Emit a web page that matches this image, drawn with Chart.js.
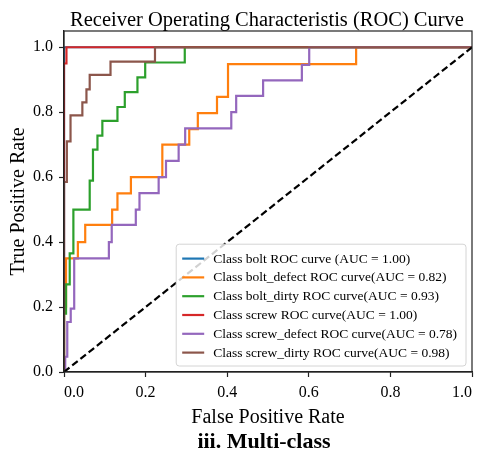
<!DOCTYPE html>
<html>
<head>
<meta charset="utf-8">
<script src="https://cdn.jsdelivr.net/npm/chart.js@4.4.1/dist/chart.umd.min.js"></script>
<style>
html,body{margin:0;padding:0;background:#fff;}
#wrap{width:477px;height:452px;}
</style>
</head>
<body>
<div id="wrap"><canvas id="c" width="477" height="452"></canvas></div>
<script>
// ---------- DATA ----------
const chartTitle = 'Receiver Operating Characteristis (ROC) Curve';
const caption = 'iii. Multi-class';
const xAxisTitle = 'False Positive Rate';
const yAxisTitle = 'True Positive Rate';
const xTicks = [0.0, 0.2, 0.4, 0.6, 0.8, 1.0];
const yTicks = [0.0, 0.2, 0.4, 0.6, 0.8, 1.0];

const seriesLabels = [
  'Class bolt ROC curve (AUC = 1.00)',
  'Class bolt_defect ROC curve(AUC = 0.82)',
  'Class bolt_dirty ROC curve(AUC = 0.93)',
  'Class screw ROC curve(AUC = 1.00)',
  'Class screw_defect ROC curve(AUC = 0.78)',
  'Class screw_dirty ROC curve(AUC = 0.98)'
];
const seriesColors = ['#1f77b4', '#ff7f0e', '#2ca02c', '#d62728', '#9467bd', '#8c564b'];

const boltFpr = [0, 0, 1];
const boltTpr = [0, 1, 1];

const boltDefectFpr = [0, 0, 0.005, 0.005, 0.034, 0.034, 0.052, 0.052, 0.118, 0.118, 0.131, 0.131, 0.164, 0.164, 0.241, 0.241, 0.307, 0.307, 0.328, 0.328, 0.375, 0.375, 0.402, 0.402, 0.716, 0.716, 1];
const boltDefectTpr = [0, 0.2, 0.2, 0.35, 0.35, 0.40, 0.40, 0.453, 0.453, 0.50, 0.50, 0.55, 0.55, 0.60, 0.60, 0.70, 0.70, 0.748, 0.748, 0.797, 0.797, 0.847, 0.847, 0.948, 0.948, 1, 1];

const boltDirtyFpr = [0, 0, 0.005, 0.005, 0.014, 0.014, 0.023, 0.023, 0.063, 0.063, 0.071, 0.071, 0.082, 0.082, 0.094, 0.094, 0.131, 0.131, 0.149, 0.149, 0.18, 0.18, 0.199, 0.199, 0.296, 0.296, 1];
const boltDirtyTpr = [0, 0.18, 0.18, 0.27, 0.27, 0.365, 0.365, 0.50, 0.50, 0.589, 0.589, 0.685, 0.685, 0.728, 0.728, 0.773, 0.773, 0.816, 0.816, 0.862, 0.862, 0.907, 0.907, 0.953, 0.953, 1, 1];

const screwFpr = [0, 0, 0.006, 0.006, 1];
const screwTpr = [0, 0.95, 0.95, 1, 1];

const screwDefectFpr = [0, 0.003, 0.003, 0.008, 0.008, 0.0165, 0.0165, 0.025, 0.025, 0.11, 0.11, 0.117, 0.117, 0.176, 0.176, 0.185, 0.185, 0.232, 0.232, 0.25, 0.25, 0.281, 0.281, 0.297, 0.297, 0.41, 0.41, 0.422, 0.422, 0.488, 0.488, 0.583, 0.583, 0.601, 0.601, 1];
const screwDefectTpr = [0, 0, 0.047, 0.047, 0.154, 0.154, 0.195, 0.195, 0.35, 0.35, 0.40, 0.40, 0.453, 0.453, 0.50, 0.50, 0.551, 0.551, 0.60, 0.60, 0.65, 0.65, 0.70, 0.70, 0.75, 0.75, 0.80, 0.80, 0.85, 0.85, 0.898, 0.898, 0.946, 0.946, 1, 1];

const screwDirtyFpr = [0, 0, 0.007, 0.007, 0.016, 0.016, 0.045, 0.045, 0.055, 0.055, 0.063, 0.063, 0.114, 0.114, 0.223, 0.223, 1];
const screwDirtyTpr = [0, 0.585, 0.585, 0.71, 0.71, 0.79, 0.79, 0.83, 0.83, 0.87, 0.87, 0.915, 0.915, 0.956, 0.956, 1, 1];

const chanceFpr = [0, 1];
const chanceTpr = [0, 1];

// ---------- BUILD ----------
const fprList = [boltFpr, boltDefectFpr, boltDirtyFpr, screwFpr, screwDefectFpr, screwDirtyFpr];
const tprList = [boltTpr, boltDefectTpr, boltDirtyTpr, screwTpr, screwDefectTpr, screwDirtyTpr];
const toPts = (xs, ys) => xs.map((x, i) => ({x: x, y: ys[i]}));

const SERIF = '"Liberation Serif", "Times New Roman", serif';

const datasets = seriesLabels.map((lab, i) => ({
  label: lab,
  data: toPts(fprList[i], tprList[i]),
  showLine: true,
  borderColor: seriesColors[i],
  backgroundColor: seriesColors[i],
  borderWidth: 2.2,
  pointRadius: 0,
  fill: false,
  tension: 0,
  order: 10 - i
}));
datasets.push({
  label: 'chance',
  data: toPts(chanceFpr, chanceTpr),
  showLine: true,
  borderColor: '#000',
  borderWidth: 2.2,
  borderDash: [7, 3.5],
  pointRadius: 0,
  fill: false,
  order: 0
});

const framePlugin = {
  id: 'frameAndLegend',
  afterDatasetsDraw(chart) {
    const ctx = chart.ctx, ca = chart.chartArea;
    ctx.save();
    ctx.strokeStyle = '#222';
    ctx.lineWidth = 1.2;
    ctx.strokeRect(ca.left, ca.top, ca.right - ca.left, ca.bottom - ca.top);

    // legend
    ctx.font = '13.5px ' + SERIF;
    let maxW = 0;
    seriesLabels.forEach(t => { maxW = Math.max(maxW, ctx.measureText(t).width); });
    const padL = 6, handle = 22, gap = 9, padR = 9, rowH = 18.8, padT = 5, padB = 4;
    const w = padL + handle + gap + maxW + padR;
    const h = padT + rowH * seriesLabels.length + padB;
    const x0 = ca.right - 6 - w, y0 = ca.bottom - 6 - h;
    ctx.beginPath();
    if (ctx.roundRect) ctx.roundRect(x0, y0, w, h, 3); else ctx.rect(x0, y0, w, h);
    ctx.fillStyle = 'rgba(255,255,255,0.82)';
    ctx.fill();
    ctx.strokeStyle = '#d4d4d4';
    ctx.lineWidth = 1;
    ctx.stroke();
    ctx.textBaseline = 'middle';
    ctx.textAlign = 'left';
    seriesLabels.forEach((t, i) => {
      const cy = y0 + padT + rowH * (i + 0.5);
      ctx.strokeStyle = seriesColors[i];
      ctx.lineWidth = 2.2;
      ctx.beginPath();
      ctx.moveTo(x0 + padL, cy);
      ctx.lineTo(x0 + padL + handle, cy);
      ctx.stroke();
      ctx.fillStyle = '#000';
      ctx.fillText(t, x0 + padL + handle + gap, cy + 0.5);
    });
    ctx.restore();
  },
  afterDraw(chart) {
    const ctx = chart.ctx, ca = chart.chartArea;
    const cx = (ca.left + ca.right) / 2;
    ctx.save();
    ctx.fillStyle = '#000';
    ctx.textAlign = 'center';
    ctx.textBaseline = 'alphabetic';
    ctx.font = '20.5px ' + SERIF;
    ctx.fillText(chartTitle, cx - 1, 26);
    ctx.font = 'bold 22px ' + SERIF;
    ctx.fillText(caption, cx - 4, 448);
    ctx.restore();
  }
};

const noPad = s => { s.paddingLeft = 0; s.paddingRight = 0; s.paddingTop = 0; s.paddingBottom = 0; };

new Chart(document.getElementById('c'), {
  type: 'scatter',
  data: { datasets: datasets },
  options: {
    responsive: false,
    animation: false,
    events: [],
    layout: { autoPadding: false, padding: { left: 0, right: 5, top: 31, bottom: 22 } },
    plugins: {
      legend: { display: false },
      title: { display: false },
      tooltip: { enabled: false }
    },
    scales: {
      x: {
        type: 'linear',
        min: 0, max: 1,
        afterBuildTicks: s => { s.ticks = xTicks.map(v => ({value: v})); },
        afterFit: s => { s.height = 58; noPad(s); },
        ticks: {
          callback: v => Number(v).toFixed(1),
          color: '#000',
          font: { family: SERIF, size: 16 },
          padding: 6,
          align: 'inner',
          maxRotation: 0
        },
        grid: { drawOnChartArea: false, drawTicks: true, tickLength: 5, tickColor: '#222', tickWidth: 1.2 },
        border: { display: true, color: '#222', width: 1.2 },
        title: { display: true, text: xAxisTitle, color: '#000', font: { family: SERIF, size: 20 }, padding: { top: 2, bottom: 0 } }
      },
      y: {
        type: 'linear',
        min: 0, max: 1.05,
        afterBuildTicks: s => { s.ticks = yTicks.map(v => ({value: v})); },
        afterFit: s => { s.width = 64; noPad(s); },
        ticks: {
          callback: v => Number(v).toFixed(1),
          color: '#000',
          font: { family: SERIF, size: 16 },
          padding: 6
        },
        grid: { drawOnChartArea: false, drawTicks: true, tickLength: 5, tickColor: '#222', tickWidth: 1.2 },
        border: { display: true, color: '#222', width: 1.2 },
        title: { display: true, text: yAxisTitle, color: '#000', font: { family: SERIF, size: 20 }, padding: { top: 7, bottom: 0 } }
      }
    }
  },
  plugins: [framePlugin]
});
</script>
</body>
</html>
